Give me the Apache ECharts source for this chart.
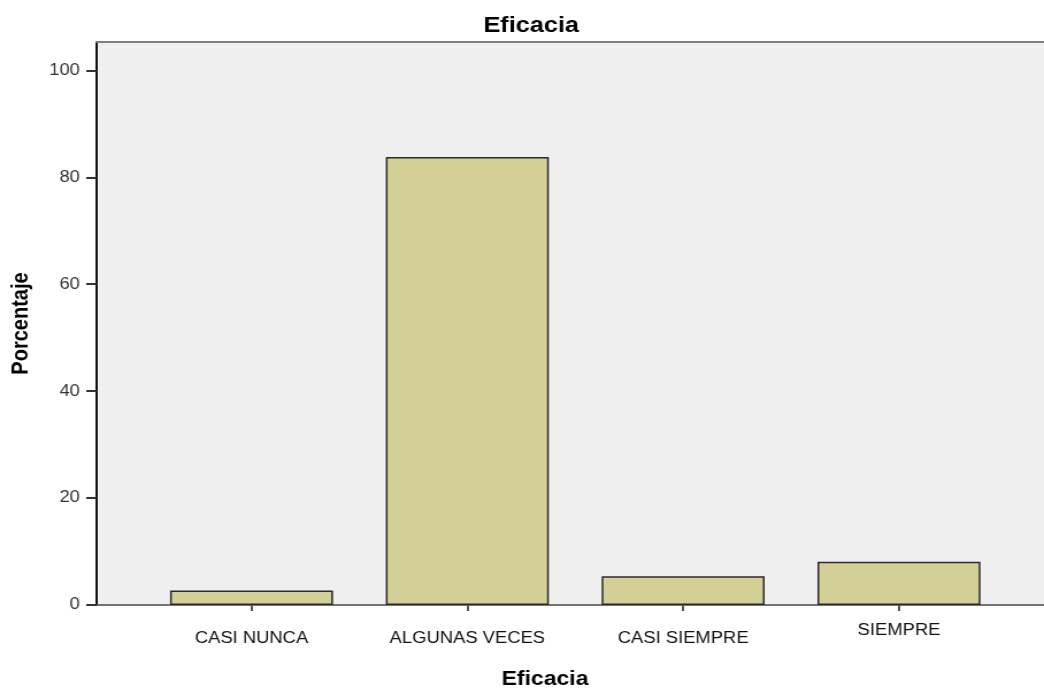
<!DOCTYPE html>
<html>
<head>
<meta charset="utf-8">
<script src="https://cdn.jsdelivr.net/npm/echarts@6/dist/echarts.min.js"></script>
<style>
  html, body { margin: 0; padding: 0; background: #fff; overflow: hidden; }
  /* chart is laid out narrower and stretched horizontally to the page width */
  #chart { width: 908px; height: 689px; transform: scaleX(1.14978); transform-origin: 0 0; }
</style>
</head>
<body>
<div id="chart"></div>
<script>
const categories = ['CASI NUNCA', 'ALGUNAS VECES', 'CASI SIEMPRE', 'SIEMPRE'];
const porcentaje = [2.7, 83.8, 5.4, 8.1];
const yTicks = [0, 20, 40, 60, 80, 100];
const yMax = 105.3;

const FONT = '"Liberation Sans", Arial, sans-serif';

const catLabelStyle = { fontFamily: FONT, fontSize: 16, color: '#111', verticalAlign: 'middle' };

const chart = echarts.init(document.getElementById('chart'), null, { renderer: 'canvas' });

chart.setOption({
  animation: false,
  backgroundColor: '#ffffff',
  textStyle: { fontFamily: FONT },
  title: [
    {
      text: 'Eficacia',
      left: 457, top: 10, textAlign: 'center',
      textStyle: { fontFamily: FONT, fontSize: 22, fontWeight: 'bold', color: '#000' }
    },
    {
      text: 'Eficacia',
      left: 469, top: 664, textAlign: 'center',
      textStyle: { fontFamily: FONT, fontSize: 20, fontWeight: 'bold', color: '#000' }
    }
  ],
  grid: [
    { left: 83, right: 0, top: 42, bottom: 84, show: true, backgroundColor: '#efefef', borderWidth: 0 },
    { left: 124.9, right: 32.3, top: 42, bottom: 84 }
  ],
  xAxis: [
    {
      gridIndex: 0, type: 'value', min: 0, max: 1, position: 'bottom',
      axisLine: { show: true, lineStyle: { color: '#4a4a4a', width: 1.5 } },
      axisTick: { show: false }, axisLabel: { show: false }, splitLine: { show: false }
    },
    {
      gridIndex: 0, type: 'value', min: 0, max: 1, position: 'top',
      axisLine: { show: true, lineStyle: { color: '#808080', width: 2 } },
      axisTick: { show: false }, axisLabel: { show: false }, splitLine: { show: false }
    },
    {
      gridIndex: 1, type: 'category', position: 'bottom',
      // the last label sits a little higher than the others
      data: categories.map(c => c === 'SIEMPRE'
        ? { value: c, textStyle: Object.assign({}, catLabelStyle, { verticalAlign: 'bottom', lineHeight: 16 }) }
        : c),
      axisLine: { show: false },
      axisTick: { show: true, alignWithLabel: true, length: 6, lineStyle: { color: '#555', width: 2 } },
      axisLabel: Object.assign({ show: true, margin: 34 }, catLabelStyle),
      splitLine: { show: false }
    }
  ],
  yAxis: [
    {
      gridIndex: 0, type: 'value', min: 0, max: yMax, interval: 20,
      name: 'Porcentaje', nameLocation: 'middle', nameRotate: 90, nameGap: 56,
      nameTextStyle: { fontFamily: FONT, fontSize: 20, fontWeight: 'bold', color: '#000' },
      axisLine: { show: true, lineStyle: { color: '#111', width: 2 } },
      axisTick: { show: true, length: 9, customValues: yTicks, lineStyle: { color: '#333', width: 2 } },
      axisLabel: { show: true, margin: 14.5, customValues: yTicks, fontFamily: FONT, fontSize: 16, color: '#333' },
      splitLine: { show: false }
    },
    {
      gridIndex: 1, type: 'value', min: 0, max: yMax, show: false
    }
  ],
  series: [
    {
      type: 'bar',
      xAxisIndex: 2, yAxisIndex: 1,
      data: porcentaje,
      barCategoryGap: '24.5%',
      itemStyle: { color: '#d3cf97', borderColor: '#2a2a2a', borderWidth: 1.5 }
    }
  ]
});
</script>
</body>
</html>
